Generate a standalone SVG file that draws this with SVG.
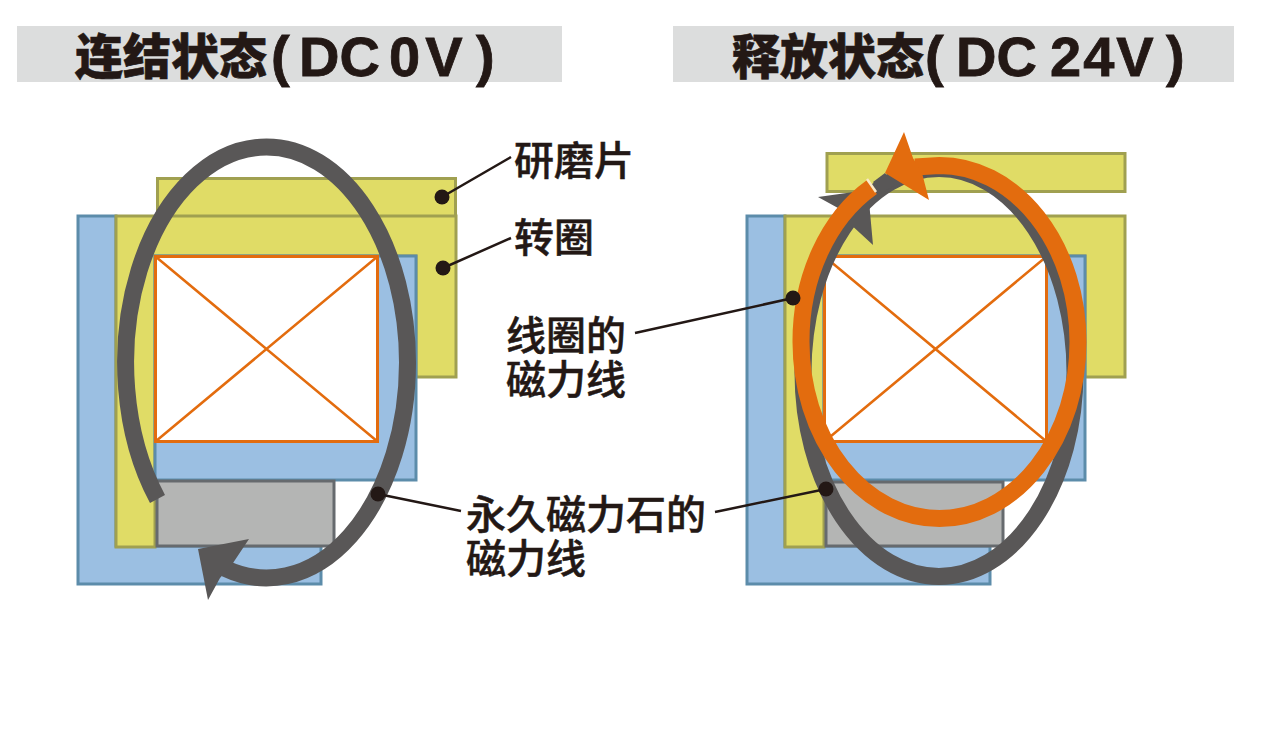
<svg xmlns="http://www.w3.org/2000/svg" width="1280" height="732" viewBox="0 0 1280 732">
<style>
.y{fill:#e0dc66;stroke:#a0a050;stroke-width:3}
.b{fill:#9bbfe2;stroke:#5c8caa;stroke-width:3}
.g{fill:#b4b5b4;stroke:#666a6e;stroke-width:3}
.c{fill:#fff;stroke:#e36c0e;stroke-width:3}
.x{stroke:#e36c0e;stroke-width:2.5;fill:none}
.gl{fill:none;stroke:#595757;stroke-width:17}
.ol{fill:none;stroke:#e36c0e;stroke-width:17}
.lead{stroke:#231815;stroke-width:2.5;fill:none}
.dot{fill:#231815}
.bar{fill:#dcdddd}
.t{font-family:"Noto Sans CJK SC","Liberation Sans",sans-serif;font-weight:900;font-size:48px;fill:#231815;stroke:#231815;stroke-width:.6}
.tl{font-family:"Liberation Sans",Arial,sans-serif;font-weight:700;font-size:56px;fill:#231815;stroke:#231815;stroke-width:.8}
.l{font-family:"Noto Sans CJK SC","Liberation Sans",sans-serif;font-weight:500;font-size:40px;fill:#231815;stroke:#231815;stroke-width:.5}
</style>
<rect class="bar" x="17" y="26" width="545" height="56"/>
<rect class="bar" x="673" y="26" width="561" height="56"/>
<g id="title-left"><text class="t" x="75" y="74">连结状态</text><text class="tl" x="271" y="75">(</text><text class="tl" x="299" y="76">DC</text><text class="tl" x="389" y="76" letter-spacing="5">0V</text><text class="tl" x="476" y="75">)</text></g>
<g id="title-right"><text class="t" x="732" y="74">释放状态</text><text class="tl" x="925" y="75">(</text><text class="tl" x="956" y="76">DC</text><text class="tl" x="1050" y="76" letter-spacing="2">24V</text><text class="tl" x="1166" y="75">)</text></g>
<g id="left-device">
<rect class="y" x="157.500" y="178.500" width="298" height="38"/>
<path class="b" d="M78 216H116V546H321V584H78Z"/>
<path class="y" d="M116 216H456V377H416V256H155V547H116Z"/>
<rect class="b" x="155" y="256" width="261" height="224"/>
<rect class="g" x="157" y="481" width="177" height="65"/>
<rect class="c" x="155.500" y="256.500" width="222" height="185"/>
<path class="x" d="M155.500 256.500L377.500 441.500M377.500 256.500L155.500 441.500"/>
</g>
<g id="right-device">
<rect class="y" x="827" y="153.500" width="298" height="38"/>
<path class="b" d="M747 216H785V546H990V584H747Z"/>
<path class="y" d="M785 216H1125V377H1085V256H824V547H785Z"/>
<rect class="b" x="824" y="256" width="261" height="224"/>
<rect class="g" x="826" y="482" width="177" height="64"/>
<rect class="c" x="824.500" y="256.500" width="222" height="185"/>
<path class="x" d="M824.500 256.500L1046.500 441.500M1046.500 256.500L824.500 441.500"/>
</g>
<g id="connectors">
<path class="gl" d="M157.500 499A141 215.500 0 0 1 266.500 147A141 215.500 0 0 1 407.500 362.500A141 215.500 0 0 1 225 568.400"/>
<path d="M208 600L198 549L249 539L233 563L220 578Z" fill="#595757"/>
<ellipse class="gl" cx="939" cy="372.500" rx="136" ry="204"/>
<path d="M818 197L868 190L873 245L848 222L838 208Z" fill="#595757"/>
<path class="ol" d="M872 187A138.500 176.500 0 0 0 801 342A138.500 176.500 0 0 0 939.500 518.500A138.500 176.500 0 0 0 1078 342A138.500 176.500 0 0 0 939.500 165.500L915 167"/>
<path d="M867 179L876 192" stroke="#fbe9c8" stroke-width="2.500"/>
<path d="M873 182L882 193L895 185L885 173Z" fill="#595757"/>
<path d="M904 132L913 158L922 173L929 200L885 173Z" fill="#e36c0e"/>
<path class="lead" d="M442 197L511 157M443 268L511 238M378 494L461 511M793 298L635 333M826 489L715 512"/>
<circle class="dot" cx="442" cy="197" r="7.500"/><circle class="dot" cx="443" cy="268" r="7.500"/><circle class="dot" cx="378" cy="494" r="7.500"/><circle class="dot" cx="793" cy="298" r="7.500"/><circle class="dot" cx="826" cy="489" r="7.500"/>
</g>
<g id="labels">
<text class="l" x="514" y="175">研磨片</text>
<text class="l" x="514" y="252">转圈</text>
<text class="l" x="506" y="350">线圈的</text>
<text class="l" x="506" y="394">磁力线</text>
<text class="l" x="466" y="529">永久磁力石的</text>
<text class="l" x="466" y="573">磁力线</text>
</g>
</svg>
